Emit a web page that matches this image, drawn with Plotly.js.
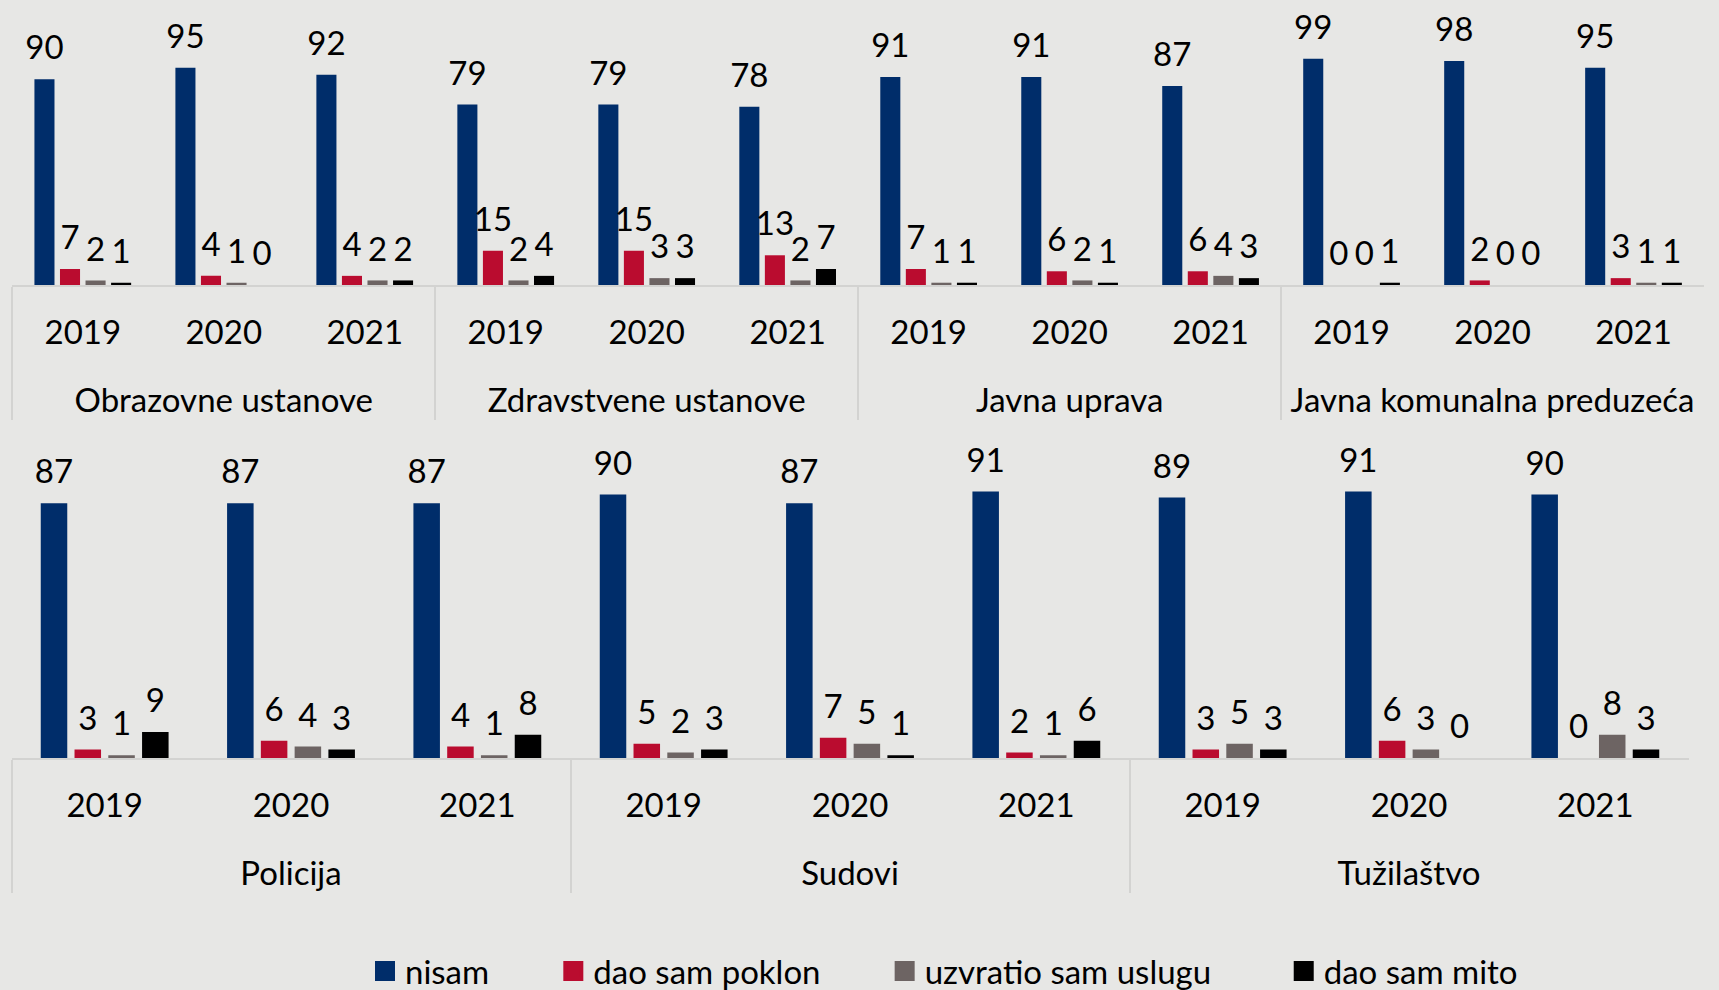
<!DOCTYPE html>
<html><head><meta charset="utf-8">
<script src="https://cdn.plot.ly/plotly-3.0.1.min.js"></script>
<style>html,body{margin:0;padding:0;background:#e7e7e5;}#chart{width:1719px;height:990px;}</style>
</head><body><div id="chart"></div>
<script>
const years = ['2019', '2020', '2021'];
const groupsTop = ['Obrazovne ustanove', 'Zdravstvene ustanove', 'Javna uprava', 'Javna komunalna preduzeća'];
const groupsBottom = ['Policija', 'Sudovi', 'Tužilaštvo'];
const seriesNames = ['nisam', 'dao sam poklon', 'uzvratio sam uslugu', 'dao sam mito'];
const seriesColors = ['#002d6a', '#ba0c2f', '#6d6463', '#000000'];

// top panel (order: group, then year)
const nisamTop   = [90, 95, 92, 79, 79, 78, 91, 91, 87, 99, 98, 95];
const poklonTop  = [7, 4, 4, 15, 15, 13, 7, 6, 6, 0, 2, 3];
const uslugaTop  = [2, 1, 2, 2, 3, 2, 1, 2, 4, 0, 0, 1];
const mitoTop    = [1, 0, 2, 4, 3, 7, 1, 1, 3, 1, 0, 1];

// bottom panel
const nisamBottom  = [87, 87, 87, 90, 87, 91, 89, 91, 90];
const poklonBottom = [3, 6, 4, 5, 7, 2, 3, 6, 0];
const uslugaBottom = [1, 4, 1, 2, 5, 1, 5, 3, 8];
const mitoBottom   = [9, 3, 8, 3, 1, 6, 3, 0, 3];

const FONT = 'Lato, "Open Sans", sans-serif';
const FS = 33;
const legendPad = [7, 7, 8, 0];   // spacing after each legend entry (non-breaking spaces)

function multiX(groups) {
  const outer = [], inner = [];
  // leading blank line pushes the group name one line below the years
  groups.forEach(g => years.forEach(y => { outer.push('\u00a0<br>' + g); inner.push(y); }));
  return [outer, inner];
}

const xTop = multiX(groupsTop);
const xBottom = multiX(groupsBottom);
const topSeries = [nisamTop, poklonTop, uslugaTop, mitoTop];
const bottomSeries = [nisamBottom, poklonBottom, uslugaBottom, mitoBottom];

const traces = [];
function addPanel(xVals, seriesList, xa, ya) {
  seriesList.forEach((vals, i) => {
    traces.push({
      type: 'bar', x: xVals, y: vals, name: seriesNames[i], legendgroup: seriesNames[i],
      marker: {color: seriesColors[i]}, xaxis: xa, yaxis: ya, showlegend: false, hoverinfo: 'y+name'
    });
  });
  seriesList.forEach((vals, i) => {
    traces.push({
      type: 'scatter', mode: 'markers+text', x: xVals, y: vals, text: vals.map(String),
      textposition: 'top center', textfont: {family: FONT, size: FS, color: '#000'},
      marker: {size: 17, opacity: 0, color: seriesColors[i]}, cliponaxis: false,
      xaxis: xa, yaxis: ya, showlegend: false, hoverinfo: 'skip', legendgroup: seriesNames[i]
    });
  });
}
addPanel(xTop, topSeries, 'x', 'y');
addPanel(xBottom, bottomSeries, 'x2', 'y2');

// legend entries (on a hidden helper axis, no visible points)
seriesNames.forEach((n, i) => {
  traces.push({
    type: 'scatter', mode: 'markers', x: [0], y: [null], xaxis: 'x3', yaxis: 'y3',
    name: n + '\u00a0'.repeat(legendPad[i]), legendgroup: n,
    marker: {symbol: 'square', size: 16, color: seriesColors[i], line: {width: 4, color: seriesColors[i]}},
    showlegend: true, hoverinfo: 'skip'
  });
});

const W = 1719, H = 990;
const xAxisCommon = {
  type: 'multicategory', showline: true, linecolor: '#d3d3d1', linewidth: 2,
  showdividers: true, dividercolor: '#d3d3d1', dividerwidth: 2, ticks: '',
  tickfont: {family: FONT, size: FS, color: '#000'}, showgrid: false, zeroline: false,
  fixedrange: true, ticklabelstandoff: 17, automargin: false
};
const yAxisCommon = {visible: false, range: [0, 100], fixedrange: true, showgrid: false, zeroline: false};

const layout = {
  width: W, height: H,
  paper_bgcolor: '#e7e7e5', plot_bgcolor: '#e7e7e5',
  margin: {l: 0, r: 0, t: 0, b: 0, pad: 0, autoexpand: false},
  barmode: 'group', bargap: 0.275, bargroupgap: 0.215,
  scattermode: 'group', scattergap: 0.275,
  showlegend: true,
  font: {family: FONT, size: FS, color: '#000'},
  xaxis: Object.assign({}, xAxisCommon, {domain: [12.3 / W, 1704 / W], anchor: 'y', range: [-0.5, 11.5]}),
  yaxis: Object.assign({}, yAxisCommon, {domain: [(H - 285) / H, (H - 56.4) / H], anchor: 'x'}),
  xaxis2: Object.assign({}, xAxisCommon, {domain: [11.5 / W, 1688.5 / W], anchor: 'y2', range: [-0.5, 8.5]}),
  yaxis2: Object.assign({}, yAxisCommon, {domain: [(H - 758.3) / H, (H - 465.2) / H], anchor: 'x2'}),
  xaxis3: {domain: [0, 0.01], anchor: 'y3', visible: false, fixedrange: true},
  yaxis3: {domain: [0, 0.01], anchor: 'x3', visible: false, fixedrange: true},
  legend: {
    orientation: 'h', x: 365 / W, xanchor: 'left', y: (H - 971) / H, yanchor: 'middle',
    font: {family: FONT, size: FS, color: '#000'}, bgcolor: 'rgba(0,0,0,0)', traceorder: 'normal'
  }
};

Plotly.newPlot('chart', traces, layout, {displayModeBar: false, responsive: false});
</script>
</body></html>
